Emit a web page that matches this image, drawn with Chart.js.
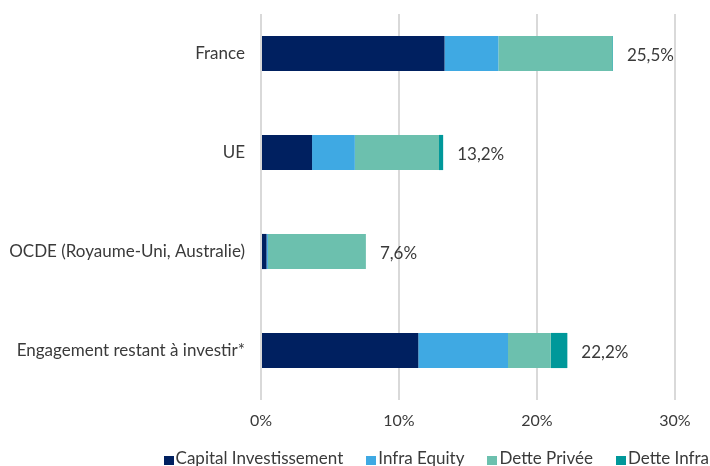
<!DOCTYPE html>
<html>
<head>
<meta charset="utf-8">
<script src="https://cdn.jsdelivr.net/npm/chart.js@4/dist/chart.umd.min.js"></script>
<style>
  html, body { margin: 0; padding: 0; background: #fff; }
  #wrap { position: relative; width: 710px; height: 466px; overflow: hidden; }
  #legend {
    position: absolute; right: 1px; top: 448px;
    display: flex; align-items: center; white-space: nowrap;
    font-family: Lato, 'Open Sans', sans-serif; font-size: 17px; color: #3a3a3a;
    line-height: 20px;
  }
  #legend .item { display: flex; align-items: center; margin-left: 23px; }
  #legend .item:first-child { margin-left: 0; }
  #legend .box { width: 10px; height: 9px; margin-right: 2px; margin-top: 4px; }
</style>
</head>
<body>
<div id="wrap">
  <canvas id="c" width="710" height="466"></canvas>
  <div id="legend"></div>
</div>
<script>
const categories = ["France", "UE", "OCDE (Royaume-Uni, Australie)", "Engagement restant à investir*"];
const seriesNames = ["Capital Investissement", "Infra Equity", "Dette Privée", "Dette Infra"];
const capitalInvestissement = [13.3, 3.7, 0.4, 11.4];
const infraEquity = [3.9, 3.1, 0.1, 6.5];
const dettePrivee = [8.25, 6.1, 7.1, 3.1];
const detteInfra = [0.05, 0.3, 0.0, 1.2];
const xTicks = [0, 10, 20, 30];
const colors = ["#002060", "#3FA9E3", "#6CC0AE", "#00989A"];

const seriesValues = [capitalInvestissement, infraEquity, dettePrivee, detteInfra];
const FONT = "Lato, 'Open Sans', sans-serif";
const TEXT = "#3a3a3a";

// HTML legend built from the series names and colours
const legendEl = document.getElementById('legend');
seriesNames.forEach((n, k) => {
  const it = document.createElement('span');
  it.className = 'item';
  const b = document.createElement('span');
  b.className = 'box';
  b.style.background = colors[k];
  const t = document.createElement('span');
  t.textContent = n;
  it.appendChild(b); it.appendChild(t);
  legendEl.appendChild(it);
});

const gridTopMask = {
  id: 'gridTopMask',
  beforeDatasetsDraw(chart) {
    const a = chart.chartArea, ctx = chart.ctx;
    ctx.save();
    ctx.fillStyle = '#fff';
    ctx.fillRect(a.left - 3, 0, a.right - a.left + 6, 14);
    ctx.restore();
  }
};

const totalLabels = {
  id: 'totalLabels',
  afterDatasetsDraw(chart) {
    const ctx = chart.ctx;
    const xs = chart.scales.x, ys = chart.scales.y;
    ctx.save();
    ctx.font = "17px " + FONT;
    ctx.fillStyle = TEXT;
    ctx.textAlign = 'left';
    ctx.textBaseline = 'middle';
    categories.forEach((c, i) => {
      const total = seriesValues.reduce((s, arr) => s + arr[i], 0);
      const x = xs.getPixelForValue(total) + 14;
      const y = ys.getPixelForValue(i) + 2;
      ctx.fillText(total.toFixed(1).replace('.', ',') + '%', x, y);
    });
    ctx.restore();
  }
};

new Chart(document.getElementById('c'), {
  type: 'bar',
  data: {
    labels: categories,
    datasets: seriesNames.map((n, k) => ({
      label: n,
      data: seriesValues[k],
      backgroundColor: colors[k],
      borderWidth: 0,
      categoryPercentage: 1,
      barPercentage: 0.355
    }))
  },
  options: {
    indexAxis: 'y',
    responsive: false,
    animation: false,
    layout: { padding: { top: 4, right: 35, left: 0, bottom: 28 } },
    plugins: {
      tooltip: { enabled: false },
      legend: { display: false }
    },
    scales: {
      x: {
        stacked: true,
        min: 0, max: 30,
        afterBuildTicks(scale) { scale.ticks = xTicks.map(v => ({ value: v })); },
        afterFit(scale) { scale.height = 38; scale.paddingLeft = 0; scale.paddingRight = 0; },
        ticks: {
          callback: v => v + '%',
          font: { family: FONT, size: 16 },
          color: TEXT,
          padding: 11
        },
        grid: { color: '#d9d9d9', lineWidth: 2, drawTicks: false },
        border: { display: false }
      },
      y: {
        stacked: true,
        afterFit(scale) { scale.width = 261; scale.paddingTop = 0; scale.paddingBottom = 0; },
        ticks: {
          font: { family: FONT, size: 17 },
          color: TEXT,
          padding: 8
        },
        grid: { display: false },
        border: { display: false }
      }
    }
  },
  plugins: [gridTopMask, totalLabels]
});
</script>
</body>
</html>
